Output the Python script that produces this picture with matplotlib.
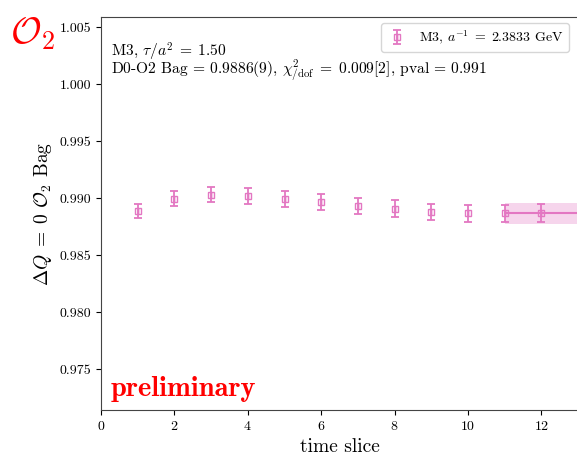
import matplotlib
matplotlib.use("Agg")
import matplotlib.pyplot as plt
import numpy as np

plt.rcParams['font.family'] = 'serif'
plt.rcParams['font.serif'] = ['cmr10']
plt.rcParams['mathtext.fontset'] = 'cm'
plt.rcParams['axes.unicode_minus'] = False
plt.rcParams['axes.formatter.use_mathtext'] = True

t = [1, 2, 3, 4, 5, 6, 7, 8, 9, 10, 11, 12]
vals = [0.98886, 0.98994, 0.99029, 0.99018, 0.98991, 0.98962,
        0.98932, 0.98906, 0.98877, 0.98868, 0.98866, 0.98866]
errs = [0.00065, 0.00066, 0.00068, 0.00068, 0.00069, 0.00070,
        0.00072, 0.00073, 0.00074, 0.00075, 0.00077, 0.00078]
fit_val = 0.98866
fit_err = 0.00092
fit_range = [11, 13.5]

color = '#e377c2'

fig = plt.figure(figsize=(5.77, 4.55), dpi=100)
ax = fig.add_axes([0.175, 0.0989, 0.827, 0.8637])

ax.errorbar(t, vals, yerr=errs, fmt='s', color=color, mfc='none',
            markersize=4, capsize=3, elinewidth=1.3, capthick=1.3,
            fillstyle='left', label=r'M3, $a^{-1}\;=\;2.3833$ GeV')
ax.fill_between(fit_range, fit_val - fit_err, fit_val + fit_err,
                color=color, alpha=0.3, lw=0)
ax.plot(fit_range, [fit_val, fit_val], color=color, lw=1.5)

ax.set_xlim(0, 13)
ax.set_ylim(0.9714, 1.00588)
ax.set_xticks([0, 2, 4, 6, 8, 10, 12])
ax.set_yticks([0.975, 0.980, 0.985, 0.990, 0.995, 1.000, 1.005])
ax.set_yticklabels(['0.975', '0.980', '0.985', '0.990', '0.995', '1.000', '1.005'])
ax.tick_params(labelsize=10)
ax.spines['right'].set_visible(False)
for s in ['left', 'bottom', 'top']:
    ax.spines[s].set_color('#444444')

ax.set_xlabel('time slice', fontsize=14)
ax.set_ylabel(r'$\Delta Q\;=\;0\ \mathcal{O}_2$ Bag', fontsize=14)

ax.text(0.021, 0.898, r'M3, $\tau/a^2\;=\;1.50$',
        transform=ax.transAxes, fontsize=11.2, va='baseline', ha='left')
ax.text(0.021, 0.856,
        r'D0-O2 Bag = 0.9886(9), $\chi^2_{/\mathrm{dof}}\;=\;0.009[2]$, pval = 0.991',
        transform=ax.transAxes, fontsize=11.2, va='baseline', ha='left')

ax.text(0.021, 0.02, 'preliminary', transform=ax.transAxes, color='red',
        fontsize=20.5, fontfamily='cmb10', va='bottom', ha='left')

fig.text(0.018, 0.905, r'$\mathcal{O}_2$', color='red', fontsize=27)

leg = ax.legend(loc='upper right', fontsize=10, frameon=True, fancybox=True,
                handlelength=1.5, bbox_to_anchor=(0.995, 1.003))

fig.savefig('out.png', dpi=100)
